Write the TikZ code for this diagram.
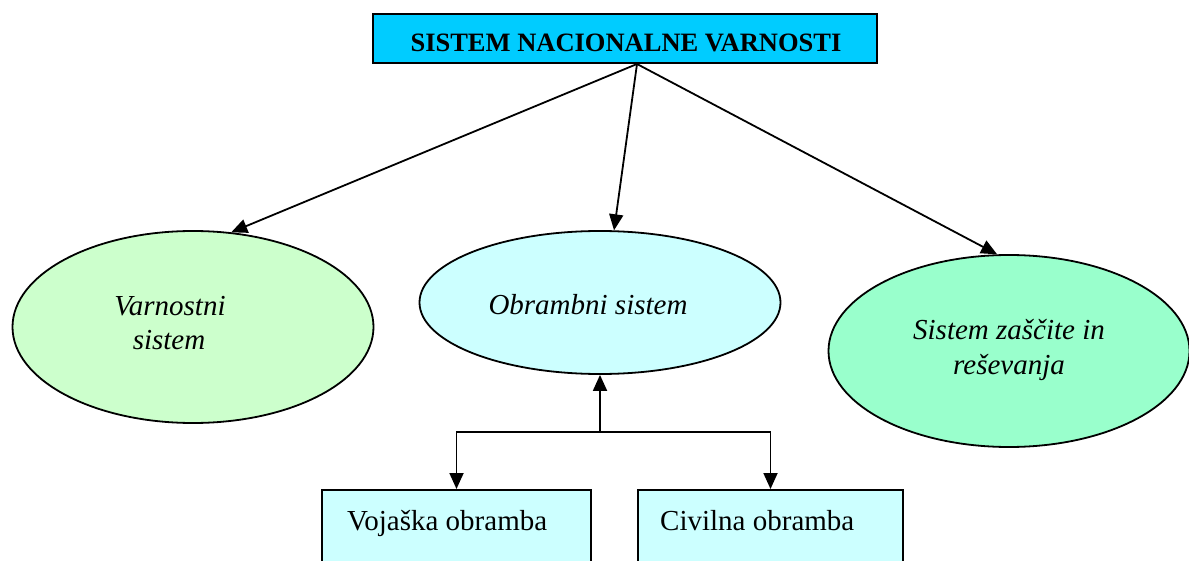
\documentclass[tikz,border=0pt]{standalone}
\usepackage{fontspec}
\setmainfont{Liberation Serif}
\usetikzlibrary{arrows.meta,shapes.geometric}
\definecolor{topcyan}{RGB}{0,204,255}
\definecolor{lgreen}{RGB}{204,255,204}
\definecolor{lcyan}{RGB}{204,255,255}
\definecolor{mgreen}{RGB}{153,255,204}
\tikzset{
  oval/.style={ellipse,draw=black,line width=1.8pt,inner sep=0pt,minimum width=361pt,minimum height=192pt},
  boxy/.style={rectangle,draw=black,line width=2.2pt,inner sep=0pt},
  itxt/.style={font=\fontsize{29}{34}\selectfont\itshape,anchor=base,inner sep=0pt},
  rtxt/.style={font=\fontsize{29}{34}\selectfont,anchor=base west,inner sep=0pt},
  arr/.style={line width=1.8pt,-{Triangle[length=16pt,width=14pt]}},
  conn/.style={line width=1.8pt}
}
\begin{document}
\begin{tikzpicture}[x=1pt,y=-1pt]
\path[use as bounding box] (0,0) rectangle (1189,561);
\clip (0,0) rectangle (1189,561);
% top box
\node[boxy,fill=topcyan,minimum width=504pt,minimum height=49pt] (top) at (625,38.5) {};
\node[font=\fontsize{26.5}{30}\selectfont\bfseries,anchor=base,inner sep=0pt] (toptxt) at (626,52) {SISTEM NACIONALNE VARNOSTI};
\coordinate (src) at (637,64);
% ellipses
\node[oval,fill=lgreen] (lv) at (193,327) {};
\node[itxt] (lv1) at (170,316) {Varnostni};
\node[itxt] (lv2) at (169,349) {sistem};
\node[oval,fill=lcyan,minimum height=143pt] (mv) at (600,302.5) {};
\node[itxt] (mv1) at (588,315) {Obrambni sistem};
\node[oval,fill=mgreen] (rv) at (1009,351) {};
\node[itxt] (rv1) at (1009,340) {Sistem zaščite in};
\node[itxt] (rv2) at (1009,374) {reševanja};
% arrows from top
\draw[arr] (src) -- (lv.68);
\draw[arr] (src) -- (mv.79);
\draw[arr] (src) -- (rv.97);
% bottom boxes
\node[boxy,fill=lcyan,minimum width=269pt,minimum height=131pt,anchor=north] (vb) at (456.5,489) {};
\node[rtxt] (vbt) at (347,530) {Vojaška obramba};
\node[boxy,fill=lcyan,minimum width=265pt,minimum height=131pt,anchor=north] (cb) at (770.5,489) {};
\node[rtxt] (cbt) at (660,530) {Civilna obramba};
% tree connectors
\coordinate (j) at (600,432);
\draw[arr] (j) -- (mv.south);
\draw[arr] (j) -| (vb.north);
\draw[arr] (j) -| (cb.north);
\end{tikzpicture}
\end{document}
